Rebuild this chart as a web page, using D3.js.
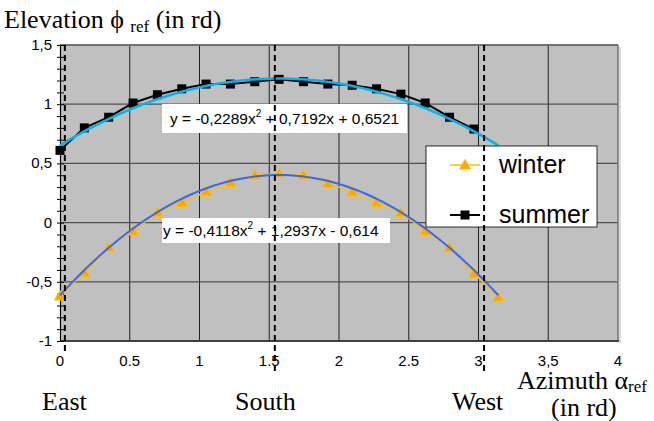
<!DOCTYPE html>
<html>
<head>
<meta charset="utf-8">
<script src="https://cdn.jsdelivr.net/npm/d3@7"></script>
<style>
body { margin: 0; background: white; }
svg { display: block; }
</style>
</head>
<body>
<svg id="chart" width="654" height="421"></svg>
<script>

// azimuth steps of pi/18 (10 degrees)
var azimuthWinter = [0, 0.1745, 0.3491, 0.5236, 0.6981, 0.8727, 1.0472, 1.2217, 1.3963, 1.5708,
                     1.7453, 1.9199, 2.0944, 2.2689, 2.4435, 2.6180, 2.7925, 2.9671, 3.1416];
var elevationWinter = [-0.62, -0.42, -0.21, -0.07, 0.085, 0.17, 0.26, 0.34, 0.40, 0.415,
                       0.40, 0.33, 0.26, 0.17, 0.085, -0.07, -0.21, -0.43, -0.63];
var azimuthSummer = [0, 0.1745, 0.3491, 0.5236, 0.6981, 0.8727, 1.0472, 1.2217, 1.3963,
                     1.5708, 1.7453, 1.9199, 2.0944, 2.2689, 2.4435, 2.6180, 2.7925, 2.9671];
var elevationSummer = [0.61, 0.80, 0.89, 1.01, 1.08, 1.13, 1.17, 1.17, 1.19,
                       1.21, 1.19, 1.17, 1.16, 1.13, 1.085, 1.01, 0.89, 0.79];

// polynomial trendline coefficients [a, b, c] : a x^2 + b x + c
var trendWinter = [-0.4118, 1.2937, -0.614];
var trendSummer = [-0.2289, 0.7192, 0.6521];
var trendRange = [0, 3.1416];

var xTicks = [0, 0.5, 1, 1.5, 2, 2.5, 3, 3.5, 4];
var xTickLabels = ["0", "0.5", "1", "1.5", "2", "2.5", "3", "3,5", "4"];
var yTicks = [-1, -0.5, 0, 0.5, 1, 1.5];
var yTickLabels = ["-1", "-0,5", "0", "0,5", "1", "1,5"];
var cardinalAzimuth = [0.035, 1.54, 3.04];
var cardinalNames = ["East", "South", "West"];

var svg = d3.select("#chart");
var x = d3.scaleLinear().domain([0, 4]).range([60, 618]);
var y = d3.scaleLinear().domain([-1, 1.5]).range([341, 45]);

// plot background + slight shadow
svg.append("rect").attr("x", 619).attr("y", 47).attr("width", 2).attr("height", 296).style("fill", "#dcdcdc");
svg.append("rect")
    .attr("x", x(0)).attr("y", y(1.5))
    .attr("width", x(4) - x(0)).attr("height", y(-1) - y(1.5))
    .style("fill", "#c0c0c0");

// grid
svg.selectAll(".vgrid").data(xTicks.slice(1, -1)).enter().append("line")
    .attr("class", "vgrid")
    .attr("x1", function (d) { return x(d) }).attr("x2", function (d) { return x(d) })
    .attr("y1", y(1.5)).attr("y2", y(-1))
    .style("stroke", "#202020").style("stroke-width", 1);
svg.selectAll(".hgrid").data(yTicks.slice(1, -1)).enter().append("line")
    .attr("class", "hgrid")
    .attr("x1", x(0)).attr("x2", x(4))
    .attr("y1", function (d) { return y(d) }).attr("y2", function (d) { return y(d) })
    .style("stroke", "#505050").style("stroke-width", 1.2);

// border
svg.append("line").attr("x1", x(0)).attr("x2", x(4)).attr("y1", y(1.5)).attr("y2", y(1.5))
    .style("stroke", "#707070").style("stroke-width", 2);
svg.append("line").attr("x1", x(4)).attr("x2", x(4)).attr("y1", y(1.5)).attr("y2", y(-1))
    .style("stroke", "#707070").style("stroke-width", 1.5);
svg.append("line").attr("x1", x(0)).attr("x2", x(4) + 1).attr("y1", y(-1)).attr("y2", y(-1))
    .style("stroke", "#404040").style("stroke-width", 2);

// y axis with minor ticks every 0.1
var yAxis = d3.axisLeft(y).tickValues(d3.range(-10, 16).map(function (k) { return k / 10 }))
    .tickSize(0).tickFormat("");
svg.append("g").attr("transform", "translate(" + x(0) + ",0)").call(yAxis)
    .call(function (g) { g.select(".domain").style("stroke", "#000").style("stroke-width", 1.2) })
    .selectAll(".tick line")
    .attr("x1", -3).attr("x2", 4).style("stroke", "#000");

svg.selectAll(".ylab").data(yTicks).enter().append("text")
    .attr("class", "ylab")
    .attr("x", 52).attr("y", function (d) { return y(d) + 5 })
    .attr("text-anchor", "end")
    .style("font-family", "Liberation Sans, Arial, sans-serif").style("font-size", "15px")
    .text(function (d, i) { return yTickLabels[i] });

svg.selectAll(".xlab").data(xTicks).enter().append("text")
    .attr("class", "xlab")
    .attr("x", function (d) { return x(d) }).attr("y", 366)
    .attr("text-anchor", "middle")
    .style("font-family", "Liberation Sans, Arial, sans-serif").style("font-size", "15px")
    .text(function (d, i) { return xTickLabels[i] });

// data series
var line = d3.line().x(function (d) { return x(d[0]) }).y(function (d) { return y(d[1]) });
var winterPts = d3.zip(azimuthWinter, elevationWinter);
var summerPts = d3.zip(azimuthSummer, elevationSummer);

svg.append("path").datum(winterPts).attr("d", line)
    .style("fill", "none").style("stroke", "#ffc000").style("stroke-width", 1.5);
svg.selectAll(".tri").data(winterPts).enter().append("path")
    .attr("class", "tri")
    .attr("transform", function (d) { return "translate(" + x(d[0]) + "," + y(d[1]) + ")" })
    .attr("d", "M0,-5.5L5.5,4L-5.5,4Z")
    .style("fill", "#ffa500").style("stroke", "#ffc000").style("stroke-width", 1);

svg.append("path").datum(summerPts).attr("d", line)
    .style("fill", "none").style("stroke", "#000").style("stroke-width", 2);
svg.selectAll(".sq").data(summerPts).enter().append("rect")
    .attr("class", "sq")
    .attr("x", function (d) { return x(d[0]) - 4.5 }).attr("y", function (d) { return y(d[1]) - 4.5 })
    .attr("width", 9).attr("height", 9)
    .style("fill", "#000");

// trendlines
function trendPoints(c) {
    var pts = [];
    for (var i = 0; i <= 80; i++) {
        var t = trendRange[0] + (trendRange[1] - trendRange[0]) * i / 80;
        pts.push([t, c[0] * t * t + c[1] * t + c[2]]);
    }
    return pts;
}
svg.append("path").datum(trendPoints(trendWinter)).attr("d", line)
    .style("fill", "none").style("stroke", "#3366ff").style("stroke-width", 2);
svg.append("path").datum(trendPoints(trendSummer)).attr("d", line)
    .style("fill", "none").style("stroke", "#00b4f0").style("stroke-width", 2.5);

// equation labels
function equation(c) {
    function f(v) { return String(Math.abs(v)).replace(".", ",") }
    return ["y = " + (c[0] < 0 ? "-" : "") + f(c[0]) + "x",
            " " + (c[1] < 0 ? "-" : "+") + " " + f(c[1]) + "x " + (c[2] < 0 ? "-" : "+") + " " + f(c[2])];
}
function eqLabel(c, bx, by, bw, bh, tx, ty) {
    svg.append("rect").attr("x", bx).attr("y", by).attr("width", bw).attr("height", bh).style("fill", "#fff");
    var parts = equation(c);
    var t = svg.append("text").attr("x", tx).attr("y", ty)
        .style("font-family", "Liberation Sans, Arial, sans-serif").style("font-size", "15.5px");
    t.append("tspan").text(parts[0]);
    t.append("tspan").attr("dy", -7).style("font-size", "10px").text("2");
    t.append("tspan").attr("dy", 7).text(parts[1]);
}
eqLabel(trendSummer, 162, 104, 245, 29, 170, 124);
eqLabel(trendWinter, 162, 218, 228, 25, 163, 236);

// legend
var legend = svg.append("g");
legend.append("rect").attr("x", 426).attr("y", 146).attr("width", 171).attr("height", 81)
    .style("fill", "#fff").style("stroke", "#000").style("stroke-width", 0.8);
legend.append("line").attr("x1", 450).attr("x2", 480).attr("y1", 165).attr("y2", 165)
    .style("stroke", "#ffc000").style("stroke-width", 1.5);
legend.append("path").attr("transform", "translate(465,165)").attr("d", "M0,-5.5L5.5,4L-5.5,4Z")
    .style("fill", "#ffa500").style("stroke", "#ffc000");
legend.append("line").attr("x1", 450).attr("x2", 480).attr("y1", 215).attr("y2", 215)
    .style("stroke", "#000").style("stroke-width", 2);
legend.append("rect").attr("x", 460.5).attr("y", 210.5).attr("width", 9).attr("height", 9).style("fill", "#000");
legend.selectAll("text").data(["winter", "summer"]).enter().append("text")
    .attr("x", 499).attr("y", function (d, i) { return 173 + 50 * i })
    .style("font-family", "Liberation Sans, Arial, sans-serif").style("font-size", "25px")
    .text(function (d) { return d });

// cardinal direction dashed lines
var dashEnd = [352, 372, 372];
svg.selectAll(".card").data(cardinalAzimuth).enter().append("line")
    .attr("class", "card")
    .attr("x1", function (d) { return x(d) }).attr("x2", function (d) { return x(d) })
    .attr("y1", y(1.5)).attr("y2", function (d, i) { return dashEnd[i] })
    .style("stroke", "#000").style("stroke-width", 2).style("stroke-dasharray", "6,4");

var serif = "Liberation Serif, Times New Roman, serif";
svg.selectAll(".cardName").data(cardinalNames).enter().append("text")
    .attr("class", "cardName")
    .attr("x", function (d, i) { return [42, 235, 452][i] }).attr("y", 410)
    .style("font-family", serif).style("font-size", "26px")
    .text(function (d) { return d });

// axis titles
var title = svg.append("text").attr("x", 4).attr("y", 28)
    .style("font-family", serif).style("font-size", "26px");
title.append("tspan").text("Elevation  \u03d5 ");
title.append("tspan").attr("dy", 4).style("font-size", "17px").text("ref");
title.append("tspan").attr("dy", -4).text(" (in rd)");

var xTitle = svg.append("text").attr("x", 517).attr("y", 389)
    .style("font-family", serif).style("font-size", "26px");
xTitle.append("tspan").text("Azimuth \u03b1");
xTitle.append("tspan").attr("dy", 3).style("font-size", "17px").text("ref");
svg.append("text").attr("x", 551).attr("y", 416)
    .style("font-family", serif).style("font-size", "26px").text("(in rd)");

</script>
</body>
</html>
